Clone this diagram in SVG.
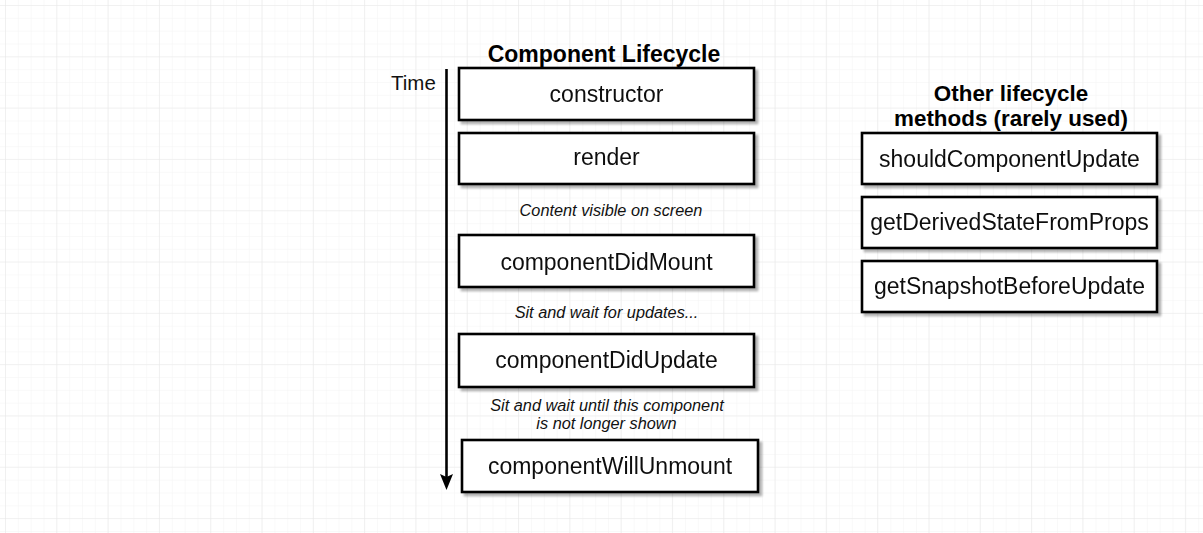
<svg xmlns="http://www.w3.org/2000/svg" width="1203" height="533" viewBox="0 0 1203 533">
<defs>
<pattern id="minor" x="5" y="5" width="12.83" height="12.83" patternUnits="userSpaceOnUse">
<path d="M0 0 H12.83 M0 0 V12.83" fill="none" stroke="#f4f4f4" stroke-width="1"/>
</pattern>
<pattern id="major" x="5" y="5" width="51.3" height="51.3" patternUnits="userSpaceOnUse">
<path d="M0 0 H51.3 M0 0 V51.3" fill="none" stroke="#e9e9e9" stroke-width="1.2"/>
</pattern>
<filter id="shadow" x="-10%" y="-20%" width="130%" height="160%">
<feGaussianBlur in="SourceAlpha" stdDeviation="1.2"/>
<feOffset dx="3" dy="3" result="b"/>
<feComponentTransfer><feFuncA type="linear" slope="0.3"/></feComponentTransfer>
<feMerge><feMergeNode/><feMergeNode in="SourceGraphic"/></feMerge>
</filter>
<marker id="arrow" markerWidth="17" markerHeight="14" refX="6" refY="7" orient="auto" markerUnits="userSpaceOnUse" viewBox="0 0 17 14">
<path d="M0 0.5 L16 7 L0 13.5 L3 7 Z" fill="#000"/>
</marker>
</defs>
<style>
.box{fill:#fff;stroke:#000;stroke-width:2.6;}
.lbl{font-family:"Liberation Sans",Arial,sans-serif;font-size:23px;fill:#111;text-anchor:middle;}
.note{font-family:"Liberation Sans",Arial,sans-serif;font-size:16.3px;font-style:italic;fill:#111;text-anchor:middle;}
.title{font-family:"Liberation Sans",Arial,sans-serif;font-size:23px;font-weight:bold;fill:#000;text-anchor:middle;}
.title2{font-family:"Liberation Sans",Arial,sans-serif;font-size:22.4px;font-weight:bold;fill:#000;text-anchor:middle;}
</style>
<rect width="1203" height="533" fill="#fff"/>
<rect width="1203" height="533" fill="url(#minor)"/>
<rect width="1203" height="533" fill="url(#major)"/>

<text class="title" x="604" y="62">Component Lifecycle</text>
<text x="391" y="90" font-family="Liberation Sans, Arial, sans-serif" font-size="20.5" fill="#111">Time</text>
<text class="title2" x="1011" y="101">Other lifecycle</text>
<text class="title2" x="1011" y="125.5">methods (rarely used)</text>

<g id="connectors">
<line x1="446.5" y1="69" x2="446.5" y2="480" stroke="#000" stroke-width="2.6" marker-end="url(#arrow)"/>
</g>

<g id="constructor" filter="url(#shadow)">
<rect class="box" x="459" y="68" width="295" height="52"/>
<text class="lbl" x="606.5" y="102">constructor</text>
</g>
<g id="render" filter="url(#shadow)">
<rect class="box" x="459" y="133" width="295" height="51"/>
<text class="lbl" x="606.5" y="165">render</text>
</g>
<text class="note" x="611" y="216">Content visible on screen</text>
<g id="componentDidMount" filter="url(#shadow)">
<rect class="box" x="459" y="235" width="295" height="52"/>
<text class="lbl" x="606.5" y="270">componentDidMount</text>
</g>
<text class="note" x="606.5" y="318">Sit and wait for updates...</text>
<g id="componentDidUpdate" filter="url(#shadow)">
<rect class="box" x="459" y="334" width="295" height="53"/>
<text class="lbl" x="606.5" y="368">componentDidUpdate</text>
</g>
<text class="note" x="607" y="411">Sit and wait until this component</text>
<text class="note" x="606.5" y="429">is not longer shown</text>
<g id="componentWillUnmount" filter="url(#shadow)">
<rect class="box" x="462" y="440" width="296" height="52"/>
<text class="lbl" x="610" y="474">componentWillUnmount</text>
</g>

<g id="shouldComponentUpdate" filter="url(#shadow)">
<rect class="box" x="862" y="133" width="295" height="51"/>
<text class="lbl" x="1009.5" y="167">shouldComponentUpdate</text>
</g>
<g id="getDerivedStateFromProps" filter="url(#shadow)">
<rect class="box" x="862" y="197" width="295" height="51"/>
<text class="lbl" x="1009.5" y="230">getDerivedStateFromProps</text>
</g>
<g id="getSnapshotBeforeUpdate" filter="url(#shadow)">
<rect class="box" x="862" y="261" width="295" height="51"/>
<text class="lbl" x="1009.5" y="294">getSnapshotBeforeUpdate</text>
</g>
</svg>
